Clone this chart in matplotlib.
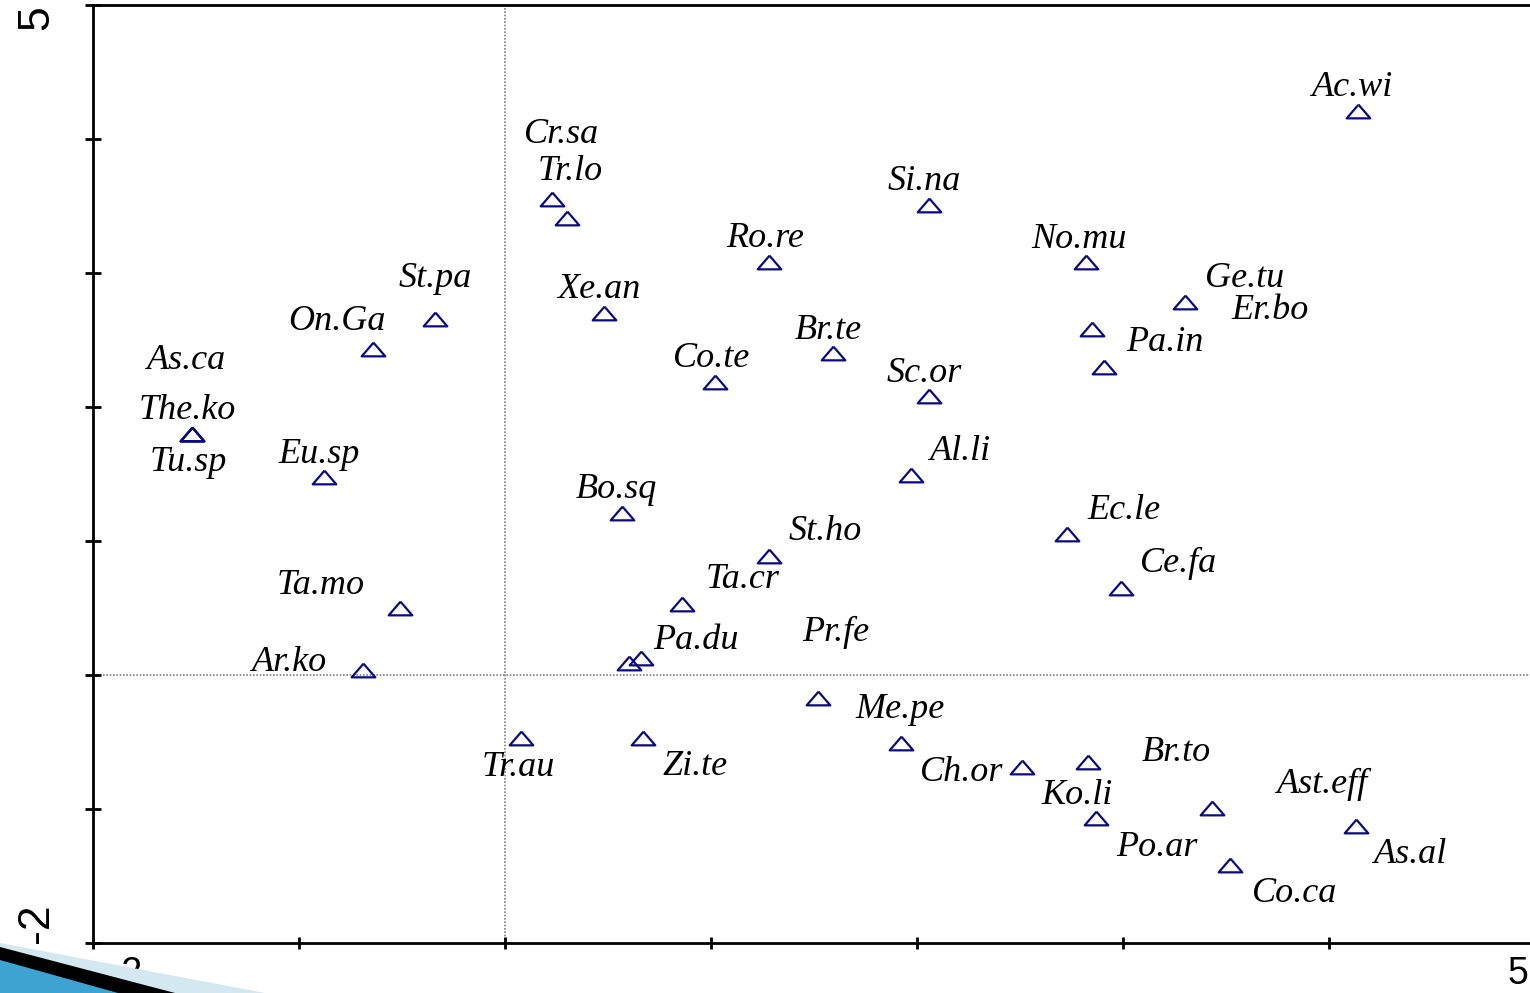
import matplotlib
matplotlib.use("Agg")
import matplotlib.pyplot as plt
from matplotlib.patches import Polygon

# species scores (axis 1, axis 2)
species = [
    "Ac.wi", "Cr.sa", "Tr.lo", "Si.na", "Ro.re", "No.mu", "Ge.tu", "Er.bo",
    "Pa.in", "St.pa", "Xe.an", "On.Ga", "Br.te", "Co.te", "Sc.or", "As.ca",
    "The.ko", "Tu.sp", "Eu.sp", "Al.li", "Bo.sq", "Ec.le", "St.ho", "Ce.fa",
    "Ta.mo", "Ta.cr", "Pr.fe", "Pa.du", "Ar.ko", "Me.pe", "Ch.or", "Tr.au",
    "Zi.te", "Ko.li", "Br.to", "Ast.eff", "Po.ar", "As.al", "Co.ca",
]
axis1 = [
    4.14, 0.23, 0.30, 2.06, 1.28, 2.82, 3.30, 2.85,
    2.91, -0.34, 0.48, -0.64, 1.59, 1.02, 2.06, -1.52,
    -1.52, -1.52, -0.88, 1.97, 0.57, 2.73, 1.28, 2.99,
    -0.51, 0.86, 0.66, 0.60, -0.69, 1.52, 1.92, 0.08,
    0.67, 2.51, 2.83, 3.43, 2.87, 4.13, 3.52,
]
axis2 = [
    4.21, 3.55, 3.41, 3.51, 3.08, 3.08, 2.78, 2.58,
    2.30, 2.66, 2.70, 2.43, 2.40, 2.19, 2.08, 1.80,
    1.80, 1.80, 1.48, 1.49, 1.21, 1.05, 0.89, 0.65,
    0.50, 0.53, 0.13, 0.09, 0.04, -0.17, -0.51, -0.47,
    -0.47, -0.69, -0.65, -0.99, -1.07, -1.13, -1.42,
]

# label offsets from each marker, in pixels
label_offsets = [
    (-5, 23), (9, 65), (3, 47), (-5, 23), (-4, 24), (-7, 23), (60, 24), (178, 19),
    (60, 24), (0, 40), (-5, 24), (-36, 28), (-4, 23), (-4, 23), (-5, 23), (-5, 73),
    (-5, 23), (-4, -29), (-5, 22), (50, 24), (-6, 23), (57, 24), (57, 24), (58, 24),
    (-79, 23), (60, 24), (195, 25), (67, 22), (-73, 7), (82, -12), (61, -29), (-3, -30),
    (52, -29), (55, -28), (88, 10), (111, 23), (61, -29), (55, -28), (65, -28),
]

xticks = [-2, -1, 0, 1, 2, 3, 4, 5]
yticks = [-2, -1, 0, 1, 2, 3, 4, 5]

# flat open triangle marker
tri = [(0, 0.58), (-1, -0.58), (1, -0.58), (0, 0.58)]

fig = plt.figure(figsize=(15.3, 9.93), dpi=100)
ax = fig.add_axes([93 / 1530, 1 - 943 / 993, 1442 / 1530, 938 / 993])

ax.axvline(0, color="#808080", lw=1.2, ls=(0, (1, 1)), zorder=1)
ax.axhline(0, color="#808080", lw=1.2, ls=(0, (1, 1)), zorder=1)

ax.plot(axis1, axis2, ls="none", marker=tri, markersize=17,
        markerfacecolor="none", markeredgecolor="#0a0a80",
        markeredgewidth=1.6, zorder=3)

for name, x, y, (dx, dy) in zip(species, axis1, axis2, label_offsets):
    ax.annotate(name, (x, y), xytext=(dx, dy), textcoords="offset pixels",
                ha="center", va="center", fontsize=26, fontstyle="italic",
                family="Liberation Serif", color="black")

ax.set_xlim(-2, 5)
ax.set_ylim(-2, 5)
ax.set_xticks(xticks)
ax.set_yticks(yticks)
ax.set_xticklabels([])
ax.set_yticklabels(["-2", "", "", "", "", "", "", "5"])

for sp in ["left", "top", "bottom"]:
    ax.spines[sp].set_linewidth(2)
ax.spines["right"].set_visible(False)

ax.tick_params(axis="y", direction="inout", length=12, width=2, pad=20,
               labelsize=32, labelrotation=90)
ax.tick_params(axis="x", direction="inout", length=8, width=2)
ylabs = ax.get_yticklabels()
for lab in ylabs:
    lab.set_family("Liberation Sans")
ylabs[0].set_va("bottom")
ylabs[-1].set_va("top")

# x-axis end labels, kept inside the slide
ax.annotate("-2", (xticks[0], -2), xytext=(16, -41), textcoords="offset pixels",
            ha="left", va="baseline", fontsize=27, family="Liberation Sans",
            annotation_clip=False)
ax.annotate("5", (xticks[-1], -2), xytext=(-7, -41), textcoords="offset pixels",
            ha="right", va="baseline", fontsize=27, family="Liberation Sans",
            annotation_clip=False)

# slide corner decoration
fig.patches.append(Polygon([(0, 50 / 993), (265 / 1530, 0), (0, 0)],
                           closed=True, transform=fig.transFigure,
                           facecolor="#d3e8f1", edgecolor="none", zorder=5))
fig.patches.append(Polygon([(0, 46 / 993), (175 / 1530, 0), (0, 0)],
                           closed=True, transform=fig.transFigure,
                           facecolor="black", edgecolor="none", zorder=6))
fig.patches.append(Polygon([(0, 33 / 993), (118 / 1530, 0), (0, 0)],
                           closed=True, transform=fig.transFigure,
                           facecolor="#3fa3d2", edgecolor="none", zorder=7))

fig.savefig("out.png", dpi=100)
